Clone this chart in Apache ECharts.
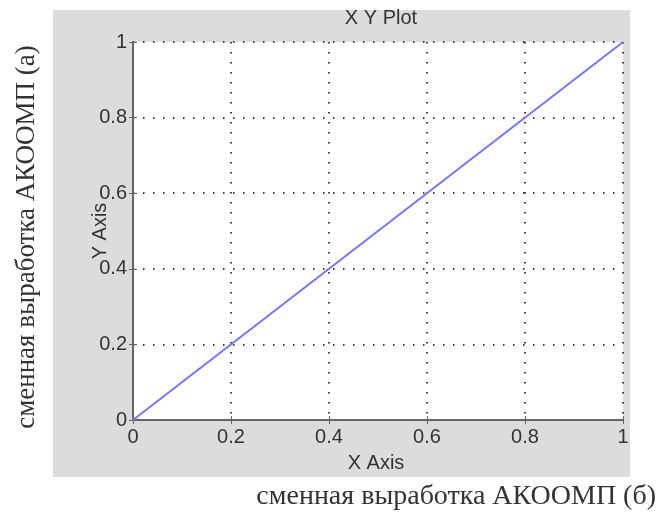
<!DOCTYPE html>
<html><head><meta charset="utf-8">
<script src="https://cdn.jsdelivr.net/npm/echarts@6/dist/echarts.min.js"></script>
<style>html,body{margin:0;padding:0;background:#fff}#c{width:660px;height:512px}</style>
</head><body><div id="c"></div>
<script>
const titleText = 'X Y Plot';
const xName = 'X Axis';
const yName = 'Y Axis';
const outerY = 'сменная выработка АКООМП (а)';
const outerX = 'сменная выработка АКООМП (б)';
const xTicks = [0, 0.2, 0.4, 0.6, 0.8, 1];
const yTicks = [0, 0.2, 0.4, 0.6, 0.8, 1];
const lineX = [0, 1];
const lineY = [0, 1];

const chart = echarts.init(document.getElementById('c'), null, {renderer: 'canvas'});
const fmt = v => String(Math.round(v * 10) / 10);
const sans = 'Liberation Sans';
const axisCommon = {
  min: xTicks[0], max: xTicks[xTicks.length - 1], interval: 0.2,
  axisLine: {show: true, lineStyle: {color: '#666', width: 2}},
  axisTick: {show: true, inside: true, length: 4, lineStyle: {color: '#666', width: 1}},
};
chart.setOption({
  backgroundColor: '#fff',
  animation: false,
  title: {text: titleText, left: 376, top: 3, textAlign: 'center',
    textStyle: {fontFamily: sans, fontSize: 20, fontWeight: 'normal', color: '#333'}},
  graphic: [
    {type: 'rect', shape: {x: 53, y: 10, width: 577, height: 467}, style: {fill: '#dcdcdc'}, z: -10, silent: true},
    {type: 'rect', shape: {x: 133, y: 42, width: 490, height: 378}, style: {fill: '#fff'}, z: -9, silent: true},
    {type: 'text', x: 27, y: 237, rotation: Math.PI / 2, style: {text: outerY, fontFamily: 'Liberation Serif', fontSize: 27, fill: '#333', align: 'center', verticalAlign: 'middle'}},
    {type: 'text', x: 656, y: 497, style: {text: outerX, fontFamily: 'Liberation Serif', fontSize: 28, fill: '#333', align: 'right', verticalAlign: 'middle'}},
    {type: 'text', x: 376, y: 463, style: {text: xName, fontFamily: sans, fontSize: 20, fill: '#333', align: 'center', verticalAlign: 'middle'}},
    {type: 'text', x: 100, y: 231, rotation: Math.PI / 2, style: {text: yName, fontFamily: sans, fontSize: 20, fill: '#333', align: 'center', verticalAlign: 'middle'}}
  ],
  grid: {left: 133, top: 42, width: 490, height: 378, show: false},
  xAxis: [
    Object.assign({}, axisCommon, {type: 'value', position: 'bottom',
      axisLabel: {formatter: fmt, margin: 7, fontFamily: sans, fontSize: 20, color: '#333'},
      splitLine: {show: true, lineStyle: {color: '#000', width: 1.5, type: [1.5, 8.5]}}}),
    Object.assign({}, axisCommon, {type: 'value', position: 'top',
      axisLabel: {show: false}, splitLine: {show: false}})
  ],
  yAxis: [
    Object.assign({}, axisCommon, {type: 'value', position: 'left',
      min: yTicks[0], max: yTicks[yTicks.length - 1],
      axisLabel: {formatter: fmt, margin: 6, fontFamily: sans, fontSize: 20, color: '#333'},
      splitLine: {show: true, lineStyle: {color: '#000', width: 1.5, type: [1.5, 8.5]}}}),
    Object.assign({}, axisCommon, {type: 'value', position: 'right',
      min: yTicks[0], max: yTicks[yTicks.length - 1],
      axisLabel: {show: false}, splitLine: {show: false}})
  ],
  series: [{
    type: 'line', xAxisIndex: 0, yAxisIndex: 0,
    data: lineX.map((x, i) => [x, lineY[i]]),
    showSymbol: false, lineStyle: {color: '#7474ff', width: 2}
  }]
});
</script></body></html>
